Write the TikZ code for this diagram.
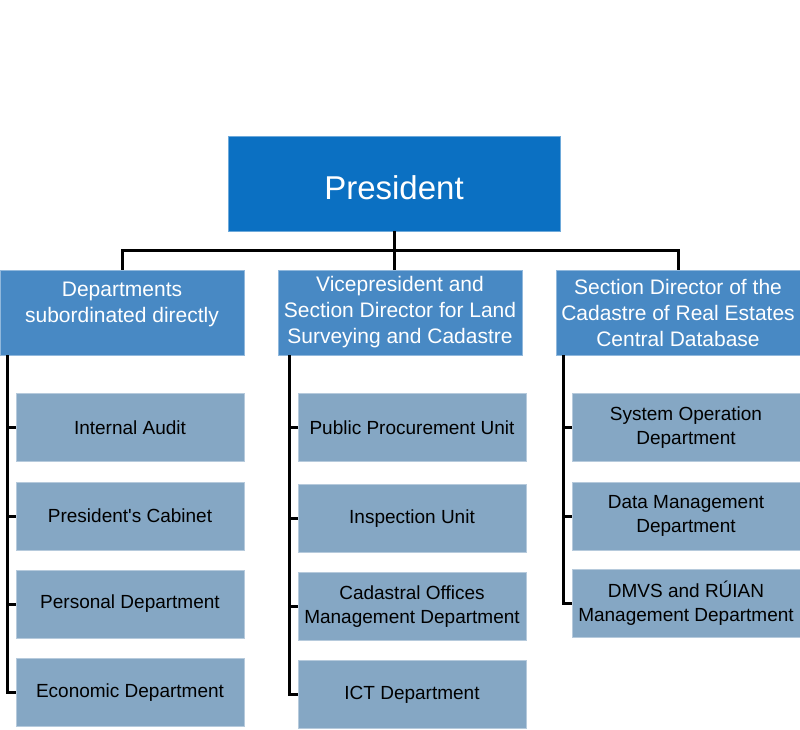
\documentclass[tikz,border=0pt]{standalone}
\usepackage{fontspec}
\setmainfont{Liberation Sans}
\definecolor{presblue}{RGB}{11,112,194}
\definecolor{midblue}{RGB}{72,137,196}
\definecolor{leafblue}{RGB}{133,167,196}
\begin{document}
\begin{tikzpicture}[x=1pt,y=1pt]
			\tikzset{orgtop/.style={rectangle, fill=presblue, draw=presblue!60!white,
						line width=0.8pt, minimum width=332pt, minimum height=95pt,
						text height=32pt, text depth=0pt,
						text=white, font=\fontsize{33}{40}\selectfont}}
			\tikzset{orgmid/.style={rectangle, fill=midblue, draw=midblue!60!white,
						line width=0.8pt, minimum width=244pt, minimum height=85pt,
						inner sep=0pt, align=center, text=white,
						font=\fontsize{21}{26}\selectfont}}
			\tikzset{orgleaf/.style={rectangle, fill=leafblue, draw=leafblue!60!white,
						line width=0.8pt, minimum width=228pt, minimum height=68pt,
						inner sep=0pt, align=center, text=black,
						font=\fontsize{19}{24}\selectfont}}
			\tikzset{orgline/.style={line width=3pt, black}}

			\useasboundingbox (0,0) rectangle (800,729);

			\node[orgtop] (pres) at (394,545.5) {President};

			\node[orgmid] (dsd) at (122,416.5) {Departments\\subordinated directly\\[-6pt]\mbox{}};
			\node[orgmid] (vp) at (400,416.5) {Vicepresident and\\Section Director for Land\\Surveying and Cadastre};
			\node[orgmid] (cdb) at (678,416.5) {Section Director of the\\Cadastre of Real Estates\\Central Database};

			\node[orgleaf] (audit) at (130,301.5) {Internal Audit};
			\node[orgleaf] (cabinet) at (130,213) {President\textquotesingle s Cabinet};
			\node[orgleaf] (personal) at (130,125) {Personal Department};
			\node[orgleaf] (economic) at (130,36.5) {Economic Department};

			\node[orgleaf] (procure) at (412,301.5) {Public Procurement Unit};
			\node[orgleaf] (inspect) at (412,210.5) {Inspection Unit};
			\node[orgleaf] (offices) at (412,122.5) {Cadastral Offices\\Management Department};
			\node[orgleaf] (ict) at (412,34.5) {ICT Department};

			\node[orgleaf] (sysop) at (686,301.5) {System Operation\\Department};
			\node[orgleaf] (datam) at (686,213) {Data Management\\Department};
			\node[orgleaf] (dmvs) at (686,126) {DMVS and RÚIAN\\Management Department};

			\path (pres.south) ++(0,-19) coordinate (bus);
			\path (audit.west) ++(-8,0) coordinate (spa);
			\path (procure.west) ++(-8,0) coordinate (spb);
			\path (sysop.west) ++(-8,0) coordinate (spc);

			\draw[orgline] (pres.south) -- (vp.north -| pres.south);
			\draw[orgline] (dsd.north) |- (bus) -| (cdb.north);

			\draw[orgline] (dsd.south -| spa) |- (economic.west);
			\draw[orgline] (spa) -- (audit.west);
			\draw[orgline] (cabinet.west -| spa) -- (cabinet.west);
			\draw[orgline] (personal.west -| spa) -- (personal.west);

			\draw[orgline] (vp.south -| spb) |- (ict.west);
			\draw[orgline] (spb) -- (procure.west);
			\draw[orgline] (inspect.west -| spb) -- (inspect.west);
			\draw[orgline] (offices.west -| spb) -- (offices.west);

			\draw[orgline] (cdb.south -| spc) |- (dmvs.west);
			\draw[orgline] (spc) -- (sysop.west);
			\draw[orgline] (datam.west -| spc) -- (datam.west);
		\end{tikzpicture}
\end{document}
